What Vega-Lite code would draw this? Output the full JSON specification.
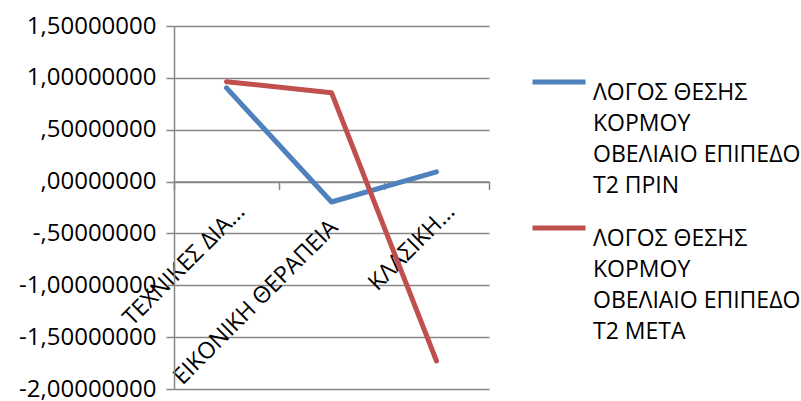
{
  "$schema": "https://vega.github.io/schema/vega-lite/v6.json",
  "width": 315,
  "height": 363,
  "autosize": {"type": "none"},
  "padding": {"left": 174, "top": 26, "right": 312, "bottom": 12},
  "background": "white",
  "data": {
    "values": [
      {"category": "ΤΕΧΝΙΚΕΣ ΔΙΑ...", "series": "ΛΟΓΟΣ ΘΕΣΗΣ ΚΟΡΜΟΥ ΟΒΕΛΙΑΙΟ ΕΠΙΠΕΔΟ Τ2 ΠΡΙΝ", "value": 0.903},
      {"category": "ΕΙΚΟΝΙΚΗ ΘΕΡΑΠΕΙΑ", "series": "ΛΟΓΟΣ ΘΕΣΗΣ ΚΟΡΜΟΥ ΟΒΕΛΙΑΙΟ ΕΠΙΠΕΔΟ Τ2 ΠΡΙΝ", "value": -0.197},
      {"category": "ΚΛΑΣΙΚΗ...", "series": "ΛΟΓΟΣ ΘΕΣΗΣ ΚΟΡΜΟΥ ΟΒΕΛΙΑΙΟ ΕΠΙΠΕΔΟ Τ2 ΠΡΙΝ", "value": 0.094},
      {"category": "ΤΕΧΝΙΚΕΣ ΔΙΑ...", "series": "ΛΟΓΟΣ ΘΕΣΗΣ ΚΟΡΜΟΥ ΟΒΕΛΙΑΙΟ ΕΠΙΠΕΔΟ Τ2 ΜΕΤΑ", "value": 0.963},
      {"category": "ΕΙΚΟΝΙΚΗ ΘΕΡΑΠΕΙΑ", "series": "ΛΟΓΟΣ ΘΕΣΗΣ ΚΟΡΜΟΥ ΟΒΕΛΙΑΙΟ ΕΠΙΠΕΔΟ Τ2 ΜΕΤΑ", "value": 0.857},
      {"category": "ΚΛΑΣΙΚΗ...", "series": "ΛΟΓΟΣ ΘΕΣΗΣ ΚΟΡΜΟΥ ΟΒΕΛΙΑΙΟ ΕΠΙΠΕΔΟ Τ2 ΜΕΤΑ", "value": -1.73}
    ]
  },
  "mark": {"type": "line", "strokeWidth": 5, "strokeCap": "round", "strokeJoin": "round"},
  "encoding": {
    "x": {
      "field": "category",
      "type": "nominal",
      "sort": null,
      "bandPosition": 0.5,
      "scale": {"type": "band", "paddingInner": 0, "paddingOuter": 0},
      "axis": {
        "title": null,
        "orient": "bottom",
        "offset": -207.43,
        "domain": true,
        "domainColor": "#868686",
        "domainWidth": 1.5,
        "ticks": true,
        "tickBand": "extent",
        "tickSize": 8,
        "tickColor": "#868686",
        "tickWidth": 1.5,
        "grid": false,
        "labelAngle": -45,
        "labelAlign": "right",
        "labelBaseline": "alphabetic",
        "labelOffset": {"condition": {"test": "datum.value === 'ΕΙΚΟΝΙΚΗ ΘΕΡΑΠΕΙΑ'", "value": 7}, "value": 19},
        "labelPadding": {"condition": {"test": "datum.value === 'ΕΙΚΟΝΙΚΗ ΘΕΡΑΠΕΙΑ'", "value": 39}, "value": 23},
        "labelFontSize": 23,
        "labelColor": "#000000",
        "labelLimit": 0,
        "labelOverlap": false
      }
    },
    "y": {
      "field": "value",
      "type": "quantitative",
      "scale": {"domain": [-2, 1.5], "nice": false, "zero": false},
      "axis": {
        "title": null,
        "values": [-2, -1.5, -1, -0.5, 0, 0.5, 1, 1.5],
        "labelExpr": "(datum.value < 0 ? '-' : '') + replace(replace(format(abs(datum.value), '.8f'), '.', ','), '0,', ',')",
        "grid": true,
        "gridColor": "#868686",
        "gridWidth": 1.5,
        "domain": true,
        "domainColor": "#868686",
        "domainWidth": 1.5,
        "ticks": true,
        "tickSize": 8,
        "tickColor": "#868686",
        "tickWidth": 1.5,
        "labelFontSize": 24,
        "labelColor": "#000000",
        "labelPadding": 10
      }
    },
    "color": {
      "field": "series",
      "type": "nominal",
      "scale": {
        "domain": ["ΛΟΓΟΣ ΘΕΣΗΣ ΚΟΡΜΟΥ ΟΒΕΛΙΑΙΟ ΕΠΙΠΕΔΟ Τ2 ΠΡΙΝ", "ΛΟΓΟΣ ΘΕΣΗΣ ΚΟΡΜΟΥ ΟΒΕΛΙΑΙΟ ΕΠΙΠΕΔΟ Τ2 ΜΕΤΑ"],
        "range": ["#4F81BD", "#C0504D"]
      },
      "legend": {
        "title": null,
        "orient": "none",
        "legendX": 356,
        "legendY": 27,
        "direction": "vertical",
        "padding": 0,
        "symbolType": "stroke",
        "symbolSize": 2809,
        "symbolStrokeWidth": 5,
        "labelFontSize": 23,
        "labelColor": "#000000",
        "labelBaseline": "top",
        "labelOffset": 5,
        "labelLimit": 0,
        "rowPadding": 1,
        "labelExpr": "[split(datum.label, ' ')[0] + ' ' + split(datum.label, ' ')[1], split(datum.label, ' ')[2], split(datum.label, ' ')[3] + ' ' + split(datum.label, ' ')[4], split(datum.label, ' ')[5] + ' ' + split(datum.label, ' ')[6]]"
      }
    }
  },
  "config": {
    "font": "Open Sans",
    "view": {"stroke": null},
    "style": {"guide-label": {"lineHeight": 31}}
  }
}
